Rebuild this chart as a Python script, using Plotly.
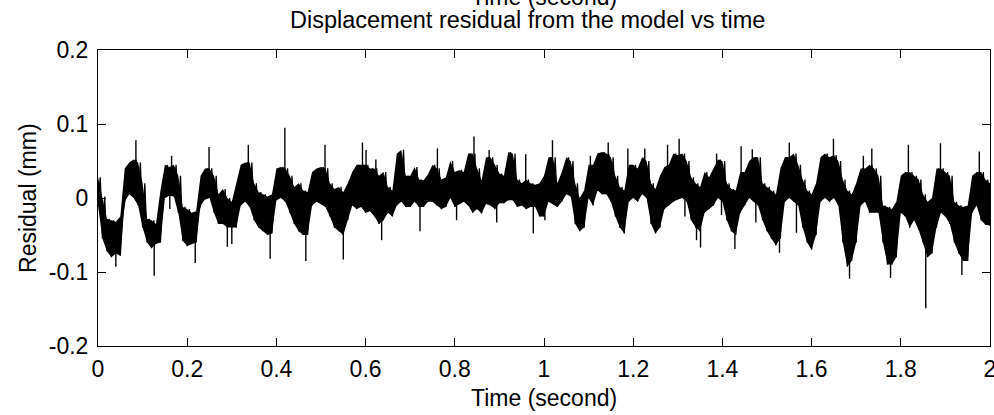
import plotly.graph_objects as go

# sample grid: one bin every 10 ms over 0..2 s
step = 0.01
n_bins = 201

# lower / upper edge of the dense band in each 10 ms bin (mm)
band_low = [
    -0.010, -0.055, -0.072, -0.080, -0.075, -0.078, -0.005, 0.005, 0.000, -0.010,
    -0.040, -0.060, -0.068, -0.062, -0.060, 0.000, 0.003, 0.002, -0.020, -0.058,
    -0.065, -0.062, -0.060, -0.010, -0.002, 0.000, -0.020, -0.035, -0.035, -0.040,
    -0.040, -0.040, -0.010, -0.005, -0.012, -0.030, -0.040, -0.045, -0.050, -0.048,
    -0.003, 0.000, -0.005, -0.020, -0.035, -0.045, -0.050, -0.050, -0.010, -0.005,
    -0.008, -0.012, -0.025, -0.040, -0.045, -0.050, -0.030, -0.010, -0.015, -0.012,
    -0.020, -0.018, -0.025, -0.035, -0.030, -0.020, -0.025, -0.010, -0.005, -0.012,
    -0.012, -0.005, -0.012, -0.012, -0.005, -0.005, -0.010, -0.015, -0.012, 0.000,
    -0.012, -0.008, -0.005, -0.010, -0.020, -0.015, -0.021, -0.008, -0.010, -0.015,
    -0.007, -0.007, -0.003, -0.003, -0.012, -0.010, -0.015, -0.012, -0.012, -0.025,
    -0.025, -0.005, -0.008, -0.012, -0.005, 0.005, 0.002, -0.035, -0.045, -0.040,
    0.000, -0.010, 0.010, 0.005, 0.005, -0.005, -0.025, -0.040, -0.048, -0.005,
    0.000, -0.005, 0.005, 0.000, -0.035, -0.048, -0.040, -0.015, -0.010, -0.005,
    -0.002, 0.000, -0.005, -0.030, -0.040, -0.045, -0.020, -0.015, -0.010, 0.000,
    -0.005, -0.030, -0.045, -0.050, -0.020, -0.010, 0.000, -0.005, -0.010, -0.030,
    -0.045, -0.055, -0.064, -0.055, -0.005, 0.000, -0.005, -0.010, -0.040, -0.060,
    -0.070, -0.050, -0.005, 0.000, -0.005, 0.000, -0.010, -0.060, -0.093, -0.085,
    -0.060, -0.010, -0.005, -0.020, -0.020, -0.020, -0.060, -0.090, -0.090, -0.080,
    -0.020, -0.025, -0.040, -0.030, -0.043, -0.060, -0.080, -0.075, -0.040, -0.020,
    -0.025, -0.035, -0.060, -0.075, -0.085, -0.085, -0.020, -0.010, -0.030, -0.036,
    -0.037,
]
band_high = [
    0.028, 0.002, -0.028, -0.030, -0.032, -0.025, 0.040, 0.048, 0.052, 0.048,
    0.020, -0.028, -0.030, -0.035, 0.010, 0.045, 0.042, 0.045, 0.030, -0.012,
    -0.015, -0.020, -0.018, 0.030, 0.040, 0.040, 0.030, 0.005, 0.012, 0.000,
    -0.005, 0.020, 0.045, 0.048, 0.048, 0.020, 0.008, 0.005, 0.002, 0.005,
    0.040, 0.042, 0.040, 0.030, 0.015, 0.020, 0.010, 0.008, 0.035, 0.040,
    0.042, 0.040, 0.020, 0.012, 0.015, 0.008, 0.020, 0.035, 0.045, 0.045,
    0.045, 0.040, 0.040, 0.030, 0.035, 0.015, 0.010, 0.060, 0.065, 0.030,
    0.030, 0.042, 0.025, 0.024, 0.032, 0.045, 0.040, 0.025, 0.028, 0.050,
    0.035, 0.038, 0.035, 0.060, 0.060, 0.040, 0.024, 0.055, 0.055, 0.045,
    0.033, 0.030, 0.062, 0.060, 0.025, 0.020, 0.025, 0.020, 0.018, 0.020,
    0.030, 0.055, 0.055, 0.020, 0.035, 0.055, 0.050, 0.020, 0.000, 0.010,
    0.045, 0.045, 0.060, 0.062, 0.060, 0.055, 0.030, 0.015, 0.010, 0.045,
    0.045, 0.040, 0.055, 0.050, 0.020, 0.012, 0.030, 0.042, 0.045, 0.060,
    0.058, 0.060, 0.050, 0.028, 0.020, 0.015, 0.035, 0.028, 0.040, 0.052,
    0.050, 0.020, 0.012, 0.010, 0.035, 0.035, 0.050, 0.055, 0.055, 0.020,
    0.015, 0.010, 0.005, 0.040, 0.055, 0.055, 0.060, 0.045, 0.025, 0.010,
    0.005, 0.020, 0.055, 0.060, 0.055, 0.058, 0.050, 0.025, 0.010, 0.005,
    0.020, 0.040, 0.040, 0.045, 0.040, 0.030, -0.010, -0.012, -0.015, -0.005,
    0.030, 0.035, 0.035, 0.030, 0.025, 0.005, -0.005, 0.000, 0.040, 0.040,
    0.035, 0.030, -0.005, -0.010, -0.012, -0.010, 0.030, 0.035, 0.035, 0.025,
    0.020,
]

# isolated needles sticking out of the band: time (s) and tip value (mm)
spike_t = [
    0.085, 0.165, 0.249, 0.337, 0.419, 0.509, 0.593, 0.601, 0.623, 0.761,
    0.843, 0.877, 0.959, 1.019, 1.104, 1.144, 1.188, 1.226, 1.277, 1.303,
    1.387, 1.442, 1.467, 1.550, 1.649, 1.716, 1.735, 1.817, 1.889, 1.976,
    0.040, 0.126, 0.161, 0.218, 0.290, 0.300, 0.386, 0.466, 0.550, 0.636,
    0.722, 0.804, 0.894, 0.976, 1.002, 1.316, 1.342, 1.351, 1.398, 1.428,
    1.475, 1.528, 1.566, 1.685, 1.777, 1.856, 1.937,
]
spike_v = [
    0.078, 0.057, 0.069, 0.072, 0.095, 0.072, 0.075, 0.065, 0.052, 0.067,
    0.083, 0.065, 0.059, 0.078, 0.057, 0.075, 0.067, 0.067, 0.072, 0.080,
    0.060, 0.070, 0.066, 0.075, 0.080, 0.057, 0.067, 0.072, 0.074, 0.063,
    -0.093, -0.105, -0.015, -0.088, -0.066, -0.062, -0.082, -0.085, -0.083, -0.057,
    -0.045, -0.030, -0.033, -0.048, -0.030, -0.025, -0.057, -0.067, -0.023, -0.069,
    -0.033, -0.074, -0.047, -0.109, -0.108, -0.149, -0.104,
]

x_ticks = [0, 0.2, 0.4, 0.6, 0.8, 1, 1.2, 1.4, 1.6, 1.8, 2]
x_labels = ["0", "0.2", "0.4", "0.6", "0.8", "1", "1.2", "1.4", "1.6", "1.8", "2"]
y_ticks = [-0.2, -0.1, 0, 0.1, 0.2]
y_labels = ["-0.2", "-0.1", "0", "0.1", "0.2"]

times = [i * step for i in range(n_bins)]

# zig-zag through each bin so the band edge looks ragged
zx, zy = [], []
for i in range(n_bins):
    zx += [times[i], times[i] + step / 2]
    zy += [band_low[i], band_high[i]]

# each needle runs from the middle of the band at that time to its tip
sx, sy = [], []
for t, v in zip(spike_t, spike_v):
    k = min(int(round(t / step)), n_bins - 1)
    sx += [t, t, None]
    sy += [(band_low[k] + band_high[k]) / 2, v, None]

font = "Liberation Sans, Arial, sans-serif"

fig = go.Figure()
fig.add_trace(go.Scatter(x=times, y=band_low, mode="lines", line=dict(width=0),
                         hoverinfo="skip", showlegend=False))
fig.add_trace(go.Scatter(x=times, y=band_high, mode="lines", line=dict(width=0),
                         fill="tonexty", fillcolor="black", hoverinfo="skip", showlegend=False))
fig.add_trace(go.Scatter(x=zx, y=zy, mode="lines", line=dict(color="black", width=1.3),
                         hoverinfo="skip", showlegend=False))
fig.add_trace(go.Scatter(x=sx, y=sy, mode="lines", line=dict(color="black", width=1.4),
                         hoverinfo="skip", showlegend=False))

axis_style = dict(showline=True, linecolor="black", linewidth=1, mirror="ticks",
                  ticks="inside", ticklen=8, tickcolor="black", showgrid=False,
                  zeroline=False, automargin=False, ticklabeloverflow="allow",
                  tickfont=dict(family=font, size=23, color="black"))

fig.update_xaxes(range=[0, 2], tickvals=x_ticks, ticktext=x_labels,
                 ticklabelstandoff=2, **axis_style)
fig.update_yaxes(range=[-0.2, 0.2], tickvals=y_ticks, ticktext=y_labels,
                 ticklabelstandoff=4, **axis_style)

txt = dict(family=font, size=23, color="black")
fig.add_annotation(text="Displacement residual from the model vs time", xref="paper", yref="paper",
                   x=0.481, y=1.101, showarrow=False, font=dict(family=font, size=23.5, color="black"),
                   yanchor="middle")
fig.add_annotation(text="Time (second)", xref="paper", yref="paper",
                   x=0.5, y=1.18, showarrow=False, font=txt, yanchor="middle")
fig.add_annotation(text="Time (second)", xref="paper", yref="paper",
                   x=0.5, y=-0.176, showarrow=False, font=txt, yanchor="middle")
fig.add_annotation(text="Residual (mm)", xref="paper", yref="paper",
                   x=-0.0785, y=0.5, showarrow=False, font=txt, textangle=-90,
                   xanchor="center", yanchor="middle")

fig.update_layout(width=994, height=415, margin=dict(l=98, r=4, t=50, b=69),
                  paper_bgcolor="white", plot_bgcolor="white", showlegend=False)

# drop the default body margin so the figure sits flush in the window
fig.write_html("out.html", config={"displayModeBar": False},
               post_script="document.body.style.margin='0';document.body.style.overflow='hidden';")
